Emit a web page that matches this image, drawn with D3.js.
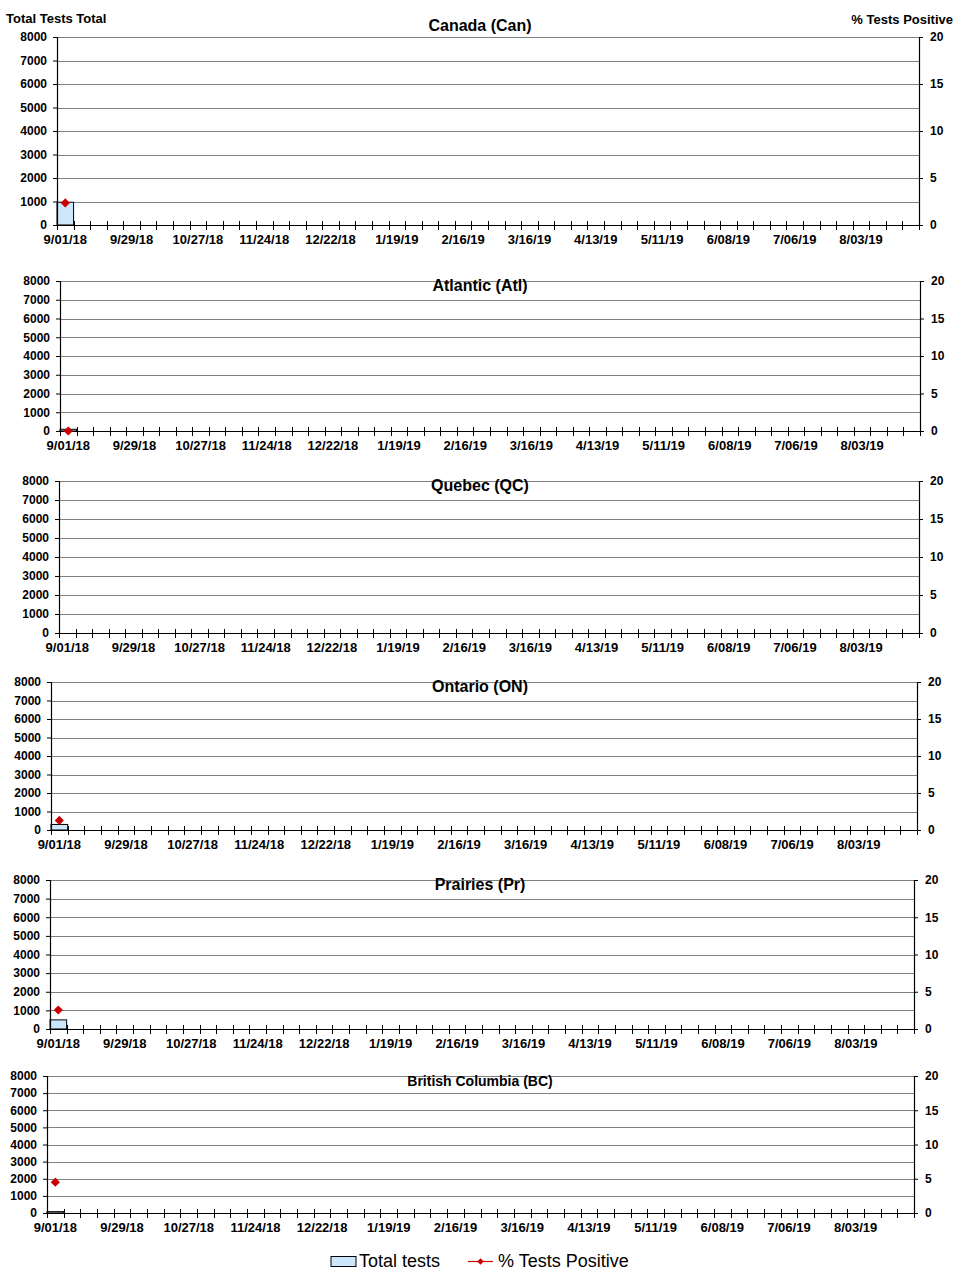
<!DOCTYPE html>
<html>
<head>
<meta charset="utf-8">
<script src="https://cdn.jsdelivr.net/npm/d3@7"></script>
<style>
   body { margin: 0; background: #fff; }
   svg { display: block; font-family: Arial, "Liberation Sans", sans-serif; }
</style>
</head>
<body>
<div id="chart"></div>
<script>
// regions, one panel each
const regions = ["Canada (Can)", "Atlantic (Atl)", "Quebec (QC)", "Ontario (ON)", "Prairies (Pr)", "British Columbia (BC)"];
// tick labels, every 4th week
const tickLabels = ["9/01/18", "9/29/18", "10/27/18", "11/24/18", "12/22/18", "1/19/19", "2/16/19",
   "3/16/19", "4/13/19", "5/11/19", "6/08/19", "7/06/19", "8/03/19"];
// only the first week (9/01/18) has been reported so far
const totalTests = [970, 90, null, 300, 490, 80];
const pctPositive = [2.35, 0, null, 1.3, 2.55, 4.5];
const totalTicks = [0, 1000, 2000, 3000, 4000, 5000, 6000, 7000, 8000];
const pctTicks = [0, 5, 10, 15, 20];

// weeks of the season, Saturday to Saturday
const weeks = d3.timeSaturday.range(new Date(2018, 8, 1), new Date(2019, 7, 31));

// panel placement on the page
const layout = [
   { l: 57, r: 919, t: 37, b: 225, ty: 31, fs: 16 },
   { l: 60, r: 920, t: 281, b: 431, ty: 291, fs: 16 },
   { l: 59, r: 919, t: 481, b: 633, ty: 491, fs: 16 },
   { l: 51, r: 917, t: 682, b: 830, ty: 692, fs: 16 },
   { l: 50, r: 914, t: 880, b: 1029, ty: 890, fs: 16 },
   { l: 47, r: 914, t: 1076, b: 1213, ty: 1086, fs: 14 }
];

const barFill = "#cce6fb";
const red = "#c80000";
const diamond = d3.symbol(d3.symbolSquare, 42);

const svg = d3.select("#chart").append("svg")
   .attr("width", 961)
   .attr("height", 1284);

svg.append("text")
   .attr("x", 6).attr("y", 23)
   .attr("font-size", 13).attr("font-weight", "bold")
   .text("Total Tests Total");

svg.append("text")
   .attr("x", 953).attr("y", 24)
   .attr("text-anchor", "end")
   .attr("font-size", 13).attr("font-weight", "bold")
   .text("% Tests Positive");

regions.forEach(function(name, i) {
   const p = layout[i];
   const g = svg.append("g");

   const x = d3.scaleBand().domain(weeks).range([p.l, p.r]).padding(0);
   const y = d3.scaleLinear().domain([0, 8000]).range([p.b, p.t]);
   const y2 = d3.scaleLinear().domain([0, 20]).range([p.b, p.t]);

   // gridlines
   g.selectAll(".grid")
      .data(totalTicks.slice(1))
      .enter()
      .append("line")
      .attr("x1", p.l).attr("x2", p.r)
      .attr("y1", d => Math.round(y(d)) + 0.5).attr("y2", d => Math.round(y(d)) + 0.5)
      .attr("stroke", "#808080")
      .attr("stroke-width", 1);

   // bars
   const bars = weeks.map((w, k) => ({ week: w, value: k === 0 ? totalTests[i] : null }))
      .filter(d => d.value != null);
   g.selectAll(".bar")
      .data(bars)
      .enter()
      .append("rect")
      .attr("x", d => x(d.week))
      .attr("y", d => y(d.value))
      .attr("width", x.bandwidth())
      .attr("height", d => y(0) - y(d.value))
      .attr("fill", barFill)
      .attr("stroke", "#000")
      .attr("stroke-width", 1);

   // left axis
   const left = g.append("g")
      .attr("transform", `translate(${p.l},0)`)
      .call(d3.axisLeft(y).tickValues(totalTicks).tickFormat(d3.format("d")).tickSize(4).tickPadding(6));
   // right axis
   const right = g.append("g")
      .attr("transform", `translate(${p.r},0)`)
      .call(d3.axisRight(y2).tickValues(pctTicks).tickFormat(d3.format("d")).tickSize(4).tickPadding(7));

   // bottom axis, labels every 4th week centred in the week
   const bottom = g.append("g")
      .attr("transform", `translate(0,${p.b})`)
      .call(d3.axisBottom(x)
         .tickValues(weeks.filter((w, k) => k % 4 === 0))
         .tickFormat((w, k) => tickLabels[k])
         .tickSize(0).tickPadding(10));

   [left, right, bottom].forEach(function(a) {
      a.selectAll("path.domain").attr("stroke", "#000").attr("stroke-width", 1.2);
      a.selectAll(".tick line").attr("stroke", "#000");
      a.selectAll("text")
         .attr("font-family", "Arial, 'Liberation Sans', sans-serif")
         .attr("font-size", 12)
         .attr("font-weight", "bold")
         .attr("fill", "#000");
   });
   bottom.selectAll("text").attr("font-size", 13);
   left.select("path.domain").attr("d", `M0.5,${p.t}V${p.b}`);
   right.select("path.domain").attr("d", `M0.5,${p.t}V${p.b}`);
   bottom.select("path.domain").attr("d", `M${p.l},0.5H${p.r}`);

   // week boundary ticks crossing the axis
   const edges = weeks.map(w => x(w)).concat([x.range()[1]]);
   g.selectAll(".wtick")
      .data(edges)
      .enter()
      .append("line")
      .attr("x1", d => Math.round(d) + 0.5).attr("x2", d => Math.round(d) + 0.5)
      .attr("y1", p.b - 4).attr("y2", p.b + 5)
      .attr("stroke", "#000");

   // % positive line and markers
   const pts = weeks.map((w, k) => ({ week: w, value: k === 0 ? pctPositive[i] : null }))
      .filter(d => d.value != null);
   g.append("path")
      .datum(pts)
      .attr("fill", "none")
      .attr("stroke", red)
      .attr("stroke-width", 1.2)
      .attr("d", d3.line().x(d => x(d.week) + x.bandwidth() / 2).y(d => y2(d.value)));
   g.selectAll(".pt")
      .data(pts)
      .enter()
      .append("path")
      .attr("d", diamond)
      .attr("transform", d => `translate(${x(d.week) + x.bandwidth() / 2},${y2(d.value)}) rotate(45)`)
      .attr("fill", red);

   // title
   g.append("text")
      .attr("x", 480).attr("y", p.ty)
      .attr("text-anchor", "middle")
      .attr("font-size", p.fs)
      .attr("font-weight", "bold")
      .text(name);
});

// legend
const legend = svg.append("g");
legend.append("rect")
   .attr("x", 331).attr("y", 1256.5)
   .attr("width", 25).attr("height", 10)
   .attr("fill", barFill).attr("stroke", "#000");
legend.append("text")
   .attr("x", 359).attr("y", 1267)
   .attr("font-size", 18)
   .text("Total tests");
legend.append("line")
   .attr("x1", 468).attr("x2", 493)
   .attr("y1", 1261.5).attr("y2", 1261.5)
   .attr("stroke", red).attr("stroke-width", 1.2);
legend.append("path")
   .attr("d", d3.symbol(d3.symbolSquare, 20))
   .attr("transform", "translate(480.5,1261.5) rotate(45)")
   .attr("fill", red);
legend.append("text")
   .attr("x", 498).attr("y", 1267)
   .attr("font-size", 18)
   .text("% Tests Positive");
</script>
</body>
</html>
